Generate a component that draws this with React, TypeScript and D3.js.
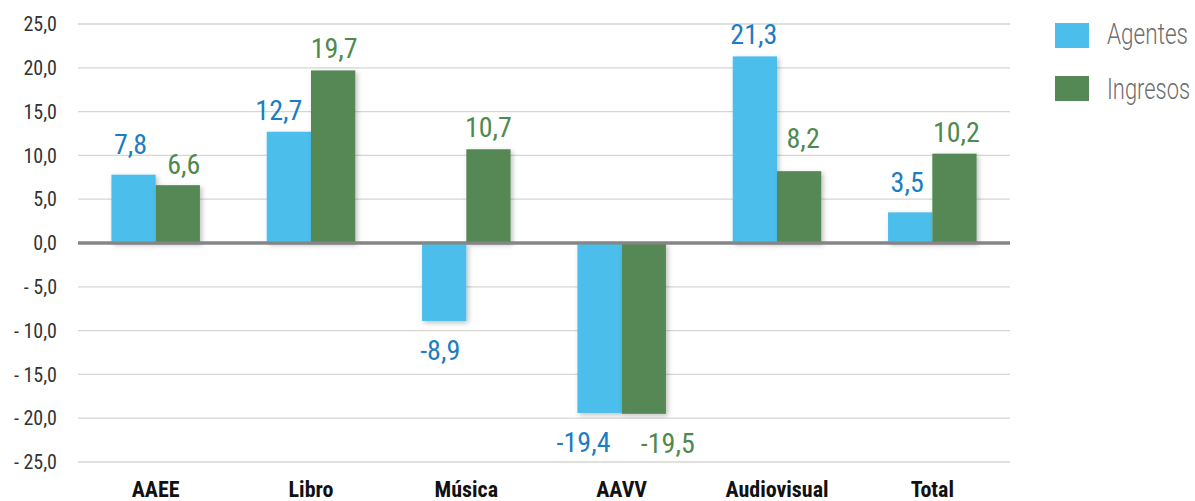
import React from "react";
import * as d3 from "d3";

const categories = ["AAEE", "Libro", "Música", "AAVV", "Audiovisual", "Total"];
const agentes = [7.8, 12.7, -8.9, -19.4, 21.3, 3.5];
const ingresos = [6.6, 19.7, 10.7, -19.5, 8.2, 10.2];
const yTicks = [25, 20, 15, 10, 5, 0, -5, -10, -15, -20, -25];
const seriesNames = ["Agentes", "Ingresos"];

// label placement tweaks (layout only): [dx, gap from bar end]
const agentesLabelTweak = [[-3, 21], [-10, 12], [-4, 19], [-16, 19], [-1, 12], [-3, 20]];
const ingresosLabelTweak = [[6, 11], [1, 12], [0, 12], [24, 19], [4, 23], [2, 12]];

const W = 1195;
const H = 501;
const FONT = "'Liberation Sans Narrow', 'Roboto Condensed', 'Liberation Sans', sans-serif";
const COLORS = ["#4BBEEC", "#548855"];
const LABEL_COLORS = ["#1B7DC2", "#4E8A4E"];

export default function App() {
  const x = d3.scaleBand<string>().domain(categories).range([78, 1010]).paddingInner(0.43).paddingOuter(0.215);
  const y = d3.scaleLinear().domain([-25, 25]).range([462, 24]);
  const sub = d3.scaleBand<number>().domain([0, 1]).range([0, x.bandwidth()]);
  const fmt = (v: number) => d3.format(".1f")(v).replace(".", ",").replace("−", "-");
  const tickFmt = (v: number) => (v < 0 ? "- " + fmt(-v) : fmt(v));
  const series = [agentes, ingresos];
  const tweaks = [agentesLabelTweak, ingresosLabelTweak];

  return (
    <svg width={W} height={H} style={{ position: "absolute", left: 0, top: 0, background: "#fff" }}>
      <defs>
        <filter id="sh" x="-20%" y="-10%" width="150%" height="130%">
          <feDropShadow dx="2" dy="2" stdDeviation="2.5" floodColor="#000" floodOpacity="0.25" />
        </filter>
      </defs>
      {yTicks.map((t) => (
        <g key={t}>
          <line x1={78} x2={1010} y1={y(t)} y2={y(t)} stroke={t === 0 ? "#858585" : "#D9D6D2"} strokeWidth={t === 0 ? 3 : 1.3} />
          <text x={57} y={y(t)} dy="0.36em" textAnchor="end" fontFamily={FONT} fontSize={20} fill="#333">
            {tickFmt(t)}
          </text>
        </g>
      ))}
      {series.map((vals, si) =>
        categories.map((c, i) => {
          const v = vals[i];
          const bx = (x(c) as number) + (sub(si) as number);
          const top = Math.min(y(v), y(0));
          const h = Math.abs(y(v) - y(0));
          return (
            <rect key={si + "-" + c} x={bx} y={top} width={sub.bandwidth()} height={h} fill={COLORS[si]} filter="url(#sh)" />
          );
        })
      )}
      <line x1={78} x2={1010} y1={y(0)} y2={y(0)} stroke="#858585" strokeWidth={3} />
      {series.map((vals, si) =>
        categories.map((c, i) => {
          const v = vals[i];
          const [dx, gap] = tweaks[si][i];
          const cx = (x(c) as number) + (sub(si) as number) + sub.bandwidth() / 2 + dx;
          const ly = v >= 0 ? y(v) - gap : y(v) + gap + 20;
          return (
            <text key={"l" + si + c} x={cx} y={ly} textAnchor="middle" fontFamily={FONT} fontSize={28} fill={LABEL_COLORS[si]}>
              {fmt(v)}
            </text>
          );
        })
      )}
      {categories.map((c) => (
        <text key={"x" + c} x={(x(c) as number) + x.bandwidth() / 2} y={497} textAnchor="middle" fontFamily={FONT} fontWeight="bold" fontSize={22} fill="#111">
          {c}
        </text>
      ))}
      {seriesNames.map((n, i) => (
        <g key={n}>
          <rect x={1055} y={23 + i * 53} width={34} height={25} fill={COLORS[i]} />
          <text x={1107} y={44 + i * 55} fontFamily="Roboto, sans-serif" fontSize={30} fontWeight={300} fill="#6E6E6E" textLength={i === 0 ? 81 : 83} lengthAdjust="spacingAndGlyphs">
            {n}
          </text>
        </g>
      ))}
    </svg>
  );
}
